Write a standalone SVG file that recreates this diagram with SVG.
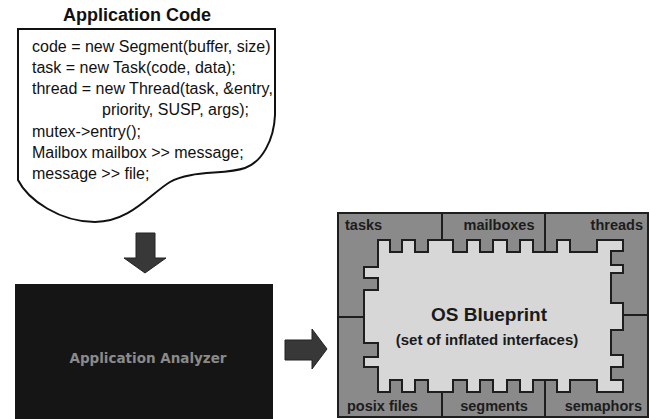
<svg xmlns="http://www.w3.org/2000/svg" width="650" height="419" viewBox="0 0 650 419">
<style>
.code{font-family:"Liberation Sans",Arial,sans-serif;font-size:16px;fill:#111}
.title{font-family:"Liberation Sans",Arial,sans-serif;font-size:18px;font-weight:bold;fill:#111}
.lbl{font-family:"Liberation Sans",Arial,sans-serif;font-size:14.5px;font-weight:bold;fill:#1c1c1c}
.ln{stroke:#1e1e1e;stroke-width:2;fill:none}
.arrow{fill:#383838;stroke:#222;stroke-width:1}
</style>
<rect width="650" height="419" fill="#fff"/>
<g id="app-code">
<text class="title" x="137" y="21" text-anchor="middle">Application Code</text>
<path d="M18,29 H275 V115 C274,140 262,162 245,168 C225,175 190,170 170,182 C150,194 130,222 95,222 C60,222 28,200 18,180 Z" fill="#fff" stroke="#111" stroke-width="2"/>
<text class="code" x="32" y="51.5">code = new Segment(buffer, size)</text>
<text class="code" x="32" y="72.8">task = new Task(code, data);</text>
<text class="code" x="32" y="94.1">thread = new Thread(task, &amp;entry,</text>
<text class="code" x="102" y="115.4">priority, SUSP, args);</text>
<text class="code" x="32" y="136.7">mutex-&gt;entry();</text>
<text class="code" x="32" y="158">Mailbox mailbox &gt;&gt; message;</text>
<text class="code" x="32" y="179.3">message &gt;&gt; file;</text>
</g>
<g id="app-analyzer">
<rect x="15" y="284" width="258" height="140" fill="#151515"/>
<text x="148" y="363" text-anchor="middle" font-family="DejaVu Sans, sans-serif" font-size="13.5" font-weight="bold" fill="#8a8a8a">Application Analyzer</text>
</g>
<g id="os-blueprint">
<rect x="338" y="213" width="310" height="204" fill="#8a8a8a" stroke="#1e1e1e" stroke-width="2"/>
<path d="M378,240 H390 V252 H402 V240 H415 V252 H428 V240 H453 V252 H467 V240 H480 V252 H493 V240 H507 V252 H520 V240 H533 V252 H557 V240 H570 V252 H597 V240 H623 V251 H611 V265 H623 V273 H611 V303 H623 V330 H611 V355 H623 V367 H611 V380 H623 V392 H597 V380 H570 V392 H557 V380 H533 V392 H520 V380 H507 V392 H493 V380 H480 V392 H467 V380 H453 V392 H428 V380 H415 V392 H402 V380 H390 V392 H378 V367 H364 V357 H378 V343 H364 V290 H378 V278 H364 V267 H378 Z" fill="#d7d7d7" stroke="#1e1e1e" stroke-width="2"/>
<path class="ln" d="M442,213 V240 M545,213 V252 M442,392 V417 M545,380 V417 M338,317 H364 M623,315 H648"/>
<text class="lbl" x="345" y="230">tasks</text>
<text class="lbl" x="499" y="230" text-anchor="middle">mailboxes</text>
<text class="lbl" x="643" y="230" text-anchor="end">threads</text>
<text class="lbl" x="347" y="411">posix files</text>
<text class="lbl" x="494" y="411" text-anchor="middle">segments</text>
<text class="lbl" x="642" y="411" text-anchor="end">semaphors</text>
<text x="489" y="321" text-anchor="middle" font-family="Liberation Sans, Arial, sans-serif" font-size="19" font-weight="bold" fill="#1a1a1a">OS Blueprint</text>
<text x="487" y="345" text-anchor="middle" font-family="Liberation Sans, Arial, sans-serif" font-size="15" font-weight="bold" fill="#1a1a1a">(set of inflated interfaces)</text>
</g>
<g id="connectors">
<polygon class="arrow" points="136,233 155,233 155,258 166,258 145,273 124,258 136,258"/>
<polygon class="arrow" points="285,340 312,340 312,329 327,349 312,369 312,360 285,360"/>
</g>
</svg>
